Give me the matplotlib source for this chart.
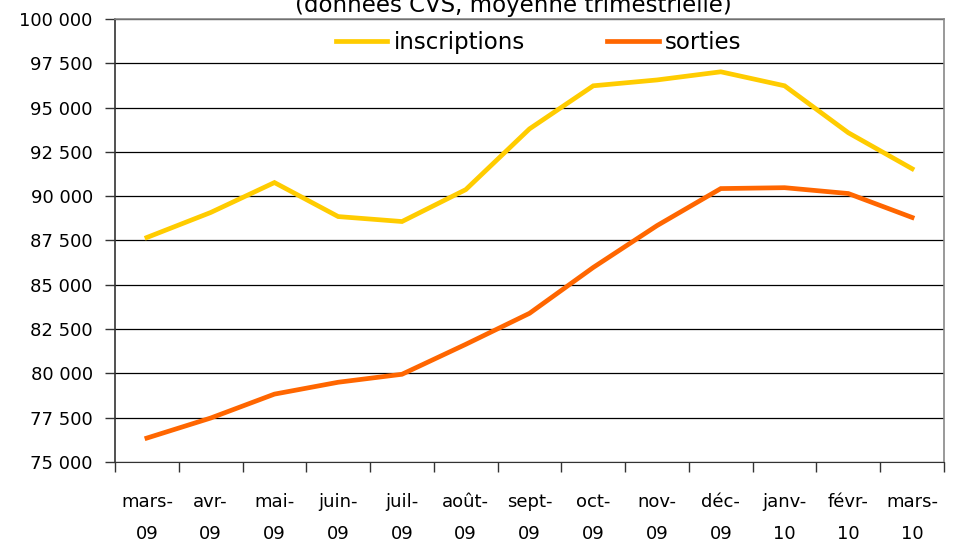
import numpy as np
import matplotlib.pyplot as plt
from matplotlib.ticker import FuncFormatter, MultipleLocator

# monthly values
months = ["mars-\n09", "avr-\n09", "mai-\n09", "juin-\n09", "juil-\n09", "août-\n09",
          "sept-\n09", "oct-\n09", "nov-\n09", "déc-\n09", "janv-\n10", "févr-\n10",
          "mars-\n10"]
inscriptions = [87670, 89080, 90770, 88850, 88570, 90370, 93800, 96230, 96560,
                97020, 96230, 93580, 91550]
sorties = [76350, 77480, 78830, 79500, 79950, 81640, 83390, 85980, 88340, 90430,
           90480, 90150, 88800]

fig = plt.figure(figsize=(9.57, 5.49), dpi=100)
ax = fig.add_axes([0.1202, 0.1585, 0.8662, 0.8069])

x = np.arange(len(months))
ax.plot(x, inscriptions, color="#FFCC00", lw=3.4, label="inscriptions",
        solid_joinstyle="miter")
ax.plot(x, sorties, color="#FF6600", lw=3.4, label="sorties",
        solid_joinstyle="miter")

ax.set_xlim(-0.5, len(months) - 0.5)
ax.set_ylim(75000, 100000)
ax.yaxis.set_major_locator(MultipleLocator(2500))
ax.yaxis.set_major_formatter(FuncFormatter(lambda v, p: f"{int(v):,}".replace(",", " ")))
ax.grid(axis="y", color="black", lw=0.9)
ax.set_axisbelow(True)

# category labels at centres, ticks at boundaries
ax.set_xticks(x)
ax.set_xticklabels(months, linespacing=2.0)
ax.set_xticks(np.arange(-0.5, len(months)), minor=True)
ax.tick_params(axis="x", which="major", length=0, pad=22, labelsize=13)
ax.tick_params(axis="x", which="minor", length=7, width=1, color="#333333")
ax.tick_params(axis="y", length=7, width=1, labelsize=13, pad=9, color="#333333")

for side in ["top", "right"]:
    ax.spines[side].set_color("#888888")
    ax.spines[side].set_linewidth(1.2)
ax.spines["left"].set_color("#333333")
ax.spines["bottom"].set_color("#333333")
ax.spines["left"].set_linewidth(1.2)

ax.legend(loc="upper center", bbox_to_anchor=(0.511, 1.02), ncol=2, frameon=False,
          fontsize=16.5, handlelength=2.25, columnspacing=3.6, handletextpad=0.28)

fig.text(0.536, 0.99, "(données CVS, moyenne trimestrielle)", ha="center", va="center",
         fontsize=16.5)

fig.savefig("out.png", dpi=100)
